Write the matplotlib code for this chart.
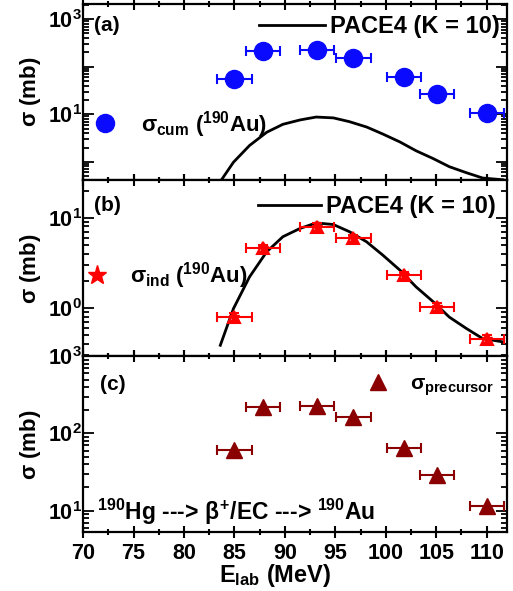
import numpy as np
import matplotlib
matplotlib.use("Agg")
import matplotlib.pyplot as plt
from matplotlib.ticker import MultipleLocator, LogLocator, NullFormatter

plt.rcParams.update({
    "font.family": ["Liberation Sans", "DejaVu Sans"],
    "font.weight": "bold",
    "axes.labelweight": "bold",
    "mathtext.fontset": "custom",
    "mathtext.rm": "Liberation Sans:bold",
    "mathtext.it": "Liberation Sans:bold",
    "mathtext.bf": "Liberation Sans:bold",
    "mathtext.sf": "Liberation Sans:bold",
    "axes.linewidth": 1.6,
})

# beam energies (MeV) and their spread
energy = [85.0, 87.8, 93.2, 96.8, 101.8, 105.1, 110.0]
e_err = [1.7, 1.7, 1.7, 1.7, 1.7, 1.7, 1.7]

# (a) cumulative cross section of 190Au (mb)
sig_cum = [56, 215, 222, 156, 61, 27, 10.4]
sig_cum_err = [5, 18, 18, 13, 5, 2.5, 1.0]

# (b) independent cross section of 190Au (mb)
sig_ind = [0.79, 4.57, 7.9, 5.9, 2.31, 1.03, 0.457]
sig_ind_err = [0.08, 0.45, 0.75, 0.55, 0.22, 0.1, 0.045]

# (c) precursor contribution (mb)
sig_pre = [61, 223, 230, 165, 65, 29, 11.4]
sig_pre_err = [9, 30, 32, 23, 10, 4.5, 1.8]

# PACE4 (K = 10) calculation
pace_e = [83.6, 84.9, 86.5, 88.2, 89.8, 91.5, 93.1, 94.8, 96.4, 98.1,
          99.7, 101.4, 103.0, 104.7, 106.3, 108.0, 109.6, 111.6]
pace_sig = [0.385, 0.98, 2.21, 4.19, 6.15, 7.6, 8.75, 8.4, 6.99, 5.4,
            3.85, 2.62, 1.71, 1.17, 0.79, 0.59, 0.457, 0.42]

fig = plt.figure(figsize=(5.13, 5.91), dpi=100)
left, width, h = 0.162, 0.826, 0.298
ax_a = fig.add_axes([left, 0.695, width, h])
ax_b = fig.add_axes([left, 0.397, width, h], sharex=ax_a)
ax_c = fig.add_axes([left, 0.099, width, h], sharex=ax_a)

blue = "#0a0aff"
red = "#ff0000"
dred = "#8b0000"
leg_kw = dict(frameon=False, borderpad=0, borderaxespad=0, numpoints=1)

# ---- (a)
pace_a, = ax_a.plot(pace_e, pace_sig, color="k", lw=2.0,
                    label="PACE4 (K = 10)")
ax_a.errorbar(energy, sig_cum, xerr=e_err, yerr=sig_cum_err, fmt="none",
              ecolor=blue, elinewidth=1.5, capsize=3.5, capthick=1.5)
pts_a, = ax_a.plot(energy, sig_cum, "o", color=blue, ms=13,
                   label=r"$\sigma_{cum}$ ($^{190}$Au)")
l1 = ax_a.legend(handles=[pace_a], loc="center right",
                 bbox_to_anchor=(0.983, 0.872), handlelength=2.8,
                 handletextpad=0.2, fontsize=17, **leg_kw)
ax_a.add_artist(l1)
ax_a.legend(handles=[pts_a], loc="center left", bbox_to_anchor=(0.0, 0.318),
            handlelength=2, handletextpad=0.6, fontsize=16, **leg_kw)
ax_a.text(0.025, 0.88, "(a)", transform=ax_a.transAxes, fontsize=15,
          va="center", ha="left")

# ---- (b)
pace_b, = ax_b.plot(pace_e, pace_sig, color="k", lw=2.0,
                    label="PACE4 (K = 10)")
ax_b.errorbar(energy, sig_ind, xerr=e_err, yerr=sig_ind_err, fmt="none",
              ecolor=red, elinewidth=1.5, capsize=3.5, capthick=1.5)
ax_b.plot(energy, sig_ind, "^", mfc="none", mec=red, mew=1.5, ms=9)
pts_b, = ax_b.plot(energy, sig_ind, "*", color=red, ms=7,
                   label=r"$\sigma_{ind}$ ($^{190}$Au)")
l2 = ax_b.legend(handles=[pace_b], loc="center right",
                 bbox_to_anchor=(0.974, 0.85), handlelength=2.7,
                 handletextpad=0.2, fontsize=17, **leg_kw)
ax_b.add_artist(l2)
ax_b.legend(handles=[pts_b], loc="center left", bbox_to_anchor=(-0.02, 0.46),
            handlelength=2, handletextpad=0.5, markerscale=2.0, fontsize=16,
            **leg_kw)
ax_b.text(0.025, 0.858, "(b)", transform=ax_b.transAxes, fontsize=15,
          va="center", ha="left")

# ---- (c)
ax_c.errorbar(energy, sig_pre, yerr=sig_pre_err, fmt="none",
              ecolor="#d08080", elinewidth=1.5, capsize=0)
ax_c.errorbar(energy, sig_pre, xerr=e_err, fmt="none",
              ecolor=dred, elinewidth=1.5, capsize=3.5, capthick=1.5)
pts_c, = ax_c.plot(energy, sig_pre, "^", color=dred, ms=12,
                   label=r"$\sigma_{precursor}$")
ax_c.legend(handles=[pts_c], loc="center left", bbox_to_anchor=(0.647, 0.83),
            handlelength=2, handletextpad=0.52, fontsize=15, **leg_kw)
ax_c.text(0.04, 0.84, "(c)", transform=ax_c.transAxes, fontsize=15,
          va="center", ha="left")
ax_c.text(0.033, 0.115, r"$^{190}$Hg ---> $\beta^{+}$/EC ---> $^{190}$Au",
          transform=ax_c.transAxes, fontsize=16.5, va="center", ha="left")

for ax in (ax_a, ax_b, ax_c):
    ax.set_yscale("log")
    ax.yaxis.set_minor_locator(LogLocator(base=10, subs=np.arange(2, 10)))
    ax.yaxis.set_minor_formatter(NullFormatter())
    ax.set_xlim(70, 112)
    ax.xaxis.set_major_locator(MultipleLocator(5))
    ax.xaxis.set_minor_locator(MultipleLocator(2.5))
    ax.tick_params(axis="x", which="both", direction="inout", top=True,
                   bottom=True, width=1.5, labelsize=15.5, pad=3)
    ax.tick_params(axis="x", which="major", length=9)
    ax.tick_params(axis="x", which="minor", length=5)
    ax.tick_params(axis="y", which="both", direction="in", left=True,
                   right=True, width=1.3, labelsize=15.5, pad=1)
    ax.tick_params(axis="y", which="major", length=8)
    ax.tick_params(axis="y", which="minor", length=4)
    ax.set_ylabel(r"$\sigma$ (mb)", fontsize=16)
    ax.yaxis.set_label_coords(-0.095, 0.5)

ax_a.tick_params(axis="x", labelbottom=False)
ax_b.tick_params(axis="x", labelbottom=False)

ax_a.set_yticks([1, 10, 100, 1000])
ax_a.set_yticklabels(["", r"$10^1$", "", r"$10^3$"])
ax_b.set_yticks([1, 10])
ax_b.set_yticklabels([r"$10^0$", r"$10^1$"])
ax_c.set_yticks([10, 100, 1000])
ax_c.set_yticklabels([r"$10^1$", r"$10^2$", r"$10^3$"])
ax_a.set_ylim(0.41, 2070)
ax_b.set_ylim(0.29, 26)
ax_c.set_ylim(5.2, 1000)

ax_c.set_xlabel(r"E$_{lab}$ (MeV)", fontsize=17)
ax_c.xaxis.set_label_coords(0.453, -0.17)

fig.savefig("out.png", dpi=100)
